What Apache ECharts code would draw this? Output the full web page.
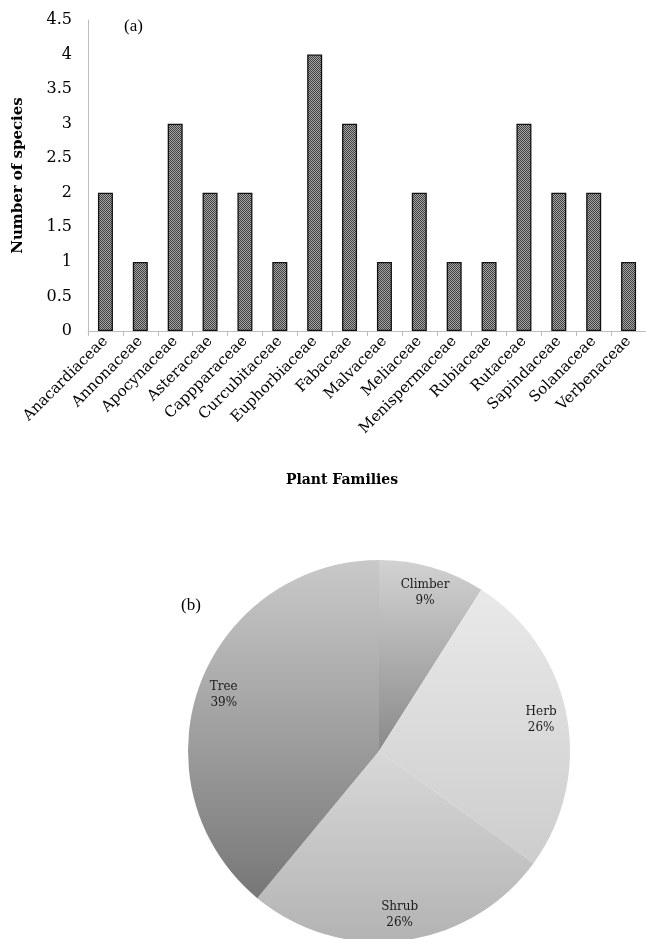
<!DOCTYPE html>
<html>
<head>
<meta charset="utf-8">
<script src="https://cdn.jsdelivr.net/npm/echarts@6/dist/echarts.min.js"></script>
<style>
  html, body { margin: 0; padding: 0; background: #fff; }
  #chart { width: 646px; height: 939px; }
</style>
</head>
<body>
<div id="chart"></div>
<script>
// (a) species per plant family
const families = ['Anacardiaceae', 'Annonaceae', 'Apocynaceae', 'Asteraceae', 'Cappparaceae',
  'Curcubitaceae', 'Euphorbiaceae', 'Fabaceae', 'Malvaceae', 'Meliaceae', 'Menispermaceae',
  'Rubiaceae', 'Rutaceae', 'Sapindaceae', 'Solanaceae', 'Verbenaceae'];
const speciesCount = [2, 1, 3, 2, 2, 1, 4, 3, 1, 2, 1, 1, 3, 2, 2, 1];

// (b) growth forms, percent
const habitNames = ['Climber', 'Herb', 'Shrub', 'Tree'];
const habitPercent = [9, 26, 26, 39];
// top / bottom shade of each slice
const habitTop = ['#d2d2d2', '#e9e9e9', '#d8d8d8', '#c9c9c9'];
const habitBottom = ['#8a8a8a', '#cdcdcd', '#b3b3b3', '#777777'];

const SERIF = 'DejaVu Serif';

// stippled fill for the bars
const tile = document.createElement('canvas');
tile.width = 2; tile.height = 2;
const tctx = tile.getContext('2d');
tctx.fillStyle = '#a6a6a6';
tctx.fillRect(0, 0, 2, 2);
tctx.fillStyle = '#404040';
tctx.fillRect(0, 0, 1, 1);
tctx.fillRect(1, 1, 1, 1);

const chart = echarts.init(document.getElementById('chart'));

chart.setOption({
  animation: false,
  textStyle: { fontFamily: SERIF, color: '#000' },
  title: [
    { text: '(a)', left: 119, top: 13, textStyle: { fontFamily: 'Liberation Serif', fontSize: 17, fontWeight: 'normal', color: '#000' } },
    { text: '(b)', left: 176, top: 592, textStyle: { fontFamily: 'Liberation Serif', fontSize: 17, fontWeight: 'normal', color: '#000' } }
  ],
  grid: { left: 88, top: 20, right: -2, height: 311 },
  xAxis: {
    type: 'category',
    data: families,
    name: 'Plant Families',
    nameLocation: 'middle',
    nameGap: 142,
    nameTextStyle: { fontFamily: SERIF, fontWeight: 'bold', fontSize: 14, color: '#000', padding: [0, 50, 0, 0] },
    axisLine: { lineStyle: { color: '#bdbdbd', width: 1 } },
    axisTick: { show: true, length: 5, lineStyle: { color: '#bdbdbd' } },
    axisLabel: { rotate: 45, fontSize: 15, color: '#000', margin: 8, interval: 0 }
  },
  yAxis: {
    type: 'value',
    min: 0,
    max: 4.5,
    interval: 0.5,
    name: 'Number of species',
    nameLocation: 'middle',
    nameGap: 62,
    nameTextStyle: { fontFamily: SERIF, fontWeight: 'bold', fontSize: 15, color: '#000' },
    axisLine: { show: true, lineStyle: { color: '#bdbdbd', width: 1 } },
    axisTick: { show: false },
    splitLine: { show: false },
    axisLabel: { fontSize: 16, color: '#000', margin: 16 }
  },
  series: [
    {
      type: 'bar',
      data: speciesCount,
      barWidth: 15,
      itemStyle: {
        color: { image: tile, repeat: 'repeat' },
        borderColor: '#111',
        borderWidth: 1.3
      }
    },
    {
      type: 'pie',
      center: [379, 751],
      radius: 191,
      startAngle: 90,
      clockwise: true,
      label: { show: false },
      labelLine: { show: false },
      data: habitNames.map((n, i) => ({
        name: n,
        value: habitPercent[i],
        itemStyle: {
          color: {
            type: 'linear', x: 0, y: 0, x2: 0, y2: 1,
            colorStops: [{ offset: 0, color: habitTop[i] }, { offset: 1, color: habitBottom[i] }]
          },
          borderWidth: 0
        }
      }))
    },
    {
      // transparent ring that carries the labels near the rim
      type: 'pie',
      center: [379, 751],
      radius: [133, 191],
      startAngle: 90,
      clockwise: true,
      silent: true,
      itemStyle: { color: 'rgba(0,0,0,0)' },
      label: {
        show: true,
        position: 'inside',
        formatter: p => p.name + '\n' + p.value + '%',
        fontFamily: SERIF,
        fontSize: 12,
        lineHeight: 16,
        color: '#1a1a1a'
      },
      labelLine: { show: false },
      data: habitNames.map((n, i) => ({ name: n, value: habitPercent[i] }))
    }
  ]
});
</script>
</body>
</html>
